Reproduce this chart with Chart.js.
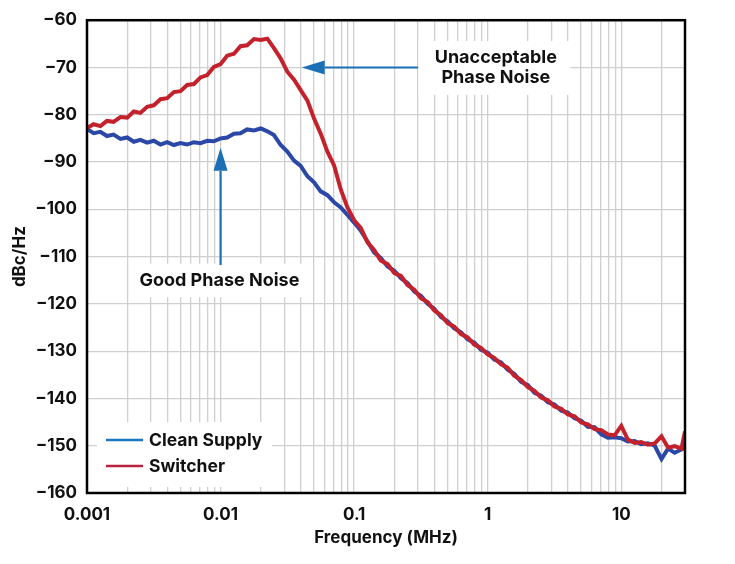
<!DOCTYPE html>
<html>
<head>
<meta charset="utf-8">
<script src="https://cdn.jsdelivr.net/npm/chart.js@4.4.1/dist/chart.umd.min.js"></script>
<style>
html, body { margin: 0; padding: 0; background: #fff; }
</style>
</head>
<body>
<canvas id="phase-noise-chart" width="735" height="564"></canvas>
<script>
// frequency offset in MHz (20 points per decade)
var freqMHz = [
    0.001, 0.00112, 0.00126, 0.00141, 0.00158, 0.00178, 0.002, 0.00224, 0.00251, 0.00282,
    0.00316, 0.00355, 0.00398, 0.00447, 0.00501, 0.00562, 0.00631, 0.00708, 0.00794, 0.00891,
    0.01, 0.0112, 0.0126, 0.0141, 0.0158, 0.0178, 0.02, 0.0224, 0.0251, 0.0282,
    0.0316, 0.0355, 0.0398, 0.0447, 0.0501, 0.0562, 0.0631, 0.0708, 0.0794, 0.0891,
    0.1, 0.112, 0.126, 0.141, 0.158, 0.178, 0.2, 0.224, 0.251, 0.282,
    0.316, 0.355, 0.398, 0.447, 0.501, 0.562, 0.631, 0.708, 0.794, 0.891,
    1, 1.12, 1.26, 1.41, 1.58, 1.78, 2, 2.24, 2.51, 2.82,
    3.16, 3.55, 3.98, 4.47, 5.01, 5.62, 6.31, 7.08, 7.94, 8.91,
    10, 11.2, 12.6, 14.1, 15.8, 17.8, 20, 22.4, 25.1, 28.2, 30
];

// dBc/Hz
var cleanSupply = [
    -83.0, -83.9, -83.6, -84.5, -84.2, -85.1, -84.8, -85.7, -85.3, -85.9,
    -85.5, -86.3, -85.8, -86.4, -86.0, -86.3, -85.8, -86.0, -85.5, -85.6,
    -85.0, -84.8, -84.0, -83.9, -83.1, -83.3, -82.9, -83.5, -84.3, -86.4,
    -87.8, -89.7, -90.8, -93.0, -94.3, -96.2, -97.0, -98.5, -99.6, -101.2,
    -102.8, -104.5, -106.8, -109.1, -110.3, -112.1, -113.0, -114.6, -115.6, -117.4,
    -118.3, -120.0, -121.0, -122.8, -123.7, -125.2, -126.0, -127.5, -128.2, -129.7,
    -130.3, -131.8, -132.4, -133.9, -134.8, -136.5, -137.2, -138.8, -139.4, -140.8,
    -141.3, -142.6, -143.0, -144.2, -144.7, -146.0, -146.1, -147.6, -148.3, -148.2,
    -148.4, -149.1, -149.0, -149.7, -149.5, -150.0, -152.8, -150.6, -151.5, -150.8, -150.5
];

var switcher = [
    -82.8, -82.0, -82.4, -81.3, -81.5, -80.5, -80.6, -79.3, -79.6, -78.3,
    -78.0, -76.7, -76.5, -75.2, -75.0, -73.7, -73.5, -72.1, -71.6, -69.9,
    -69.3, -67.5, -67.1, -65.5, -65.3, -64.0, -64.2, -63.9, -65.9, -68.1,
    -70.9, -72.6, -74.8, -77.0, -80.8, -84.0, -87.8, -90.7, -95.8, -99.6,
    -102.3, -103.9, -107.0, -108.6, -110.8, -111.6, -113.5, -114.1, -116.0, -117.0,
    -118.8, -119.6, -121.4, -122.4, -124.1, -124.8, -126.4, -127.1, -128.6, -129.3,
    -130.7, -131.4, -132.8, -133.5, -135.2, -136.1, -137.6, -138.4, -139.8, -140.4,
    -141.7, -142.2, -143.4, -143.8, -145.1, -145.5, -146.5, -146.7, -147.6, -147.8,
    -145.8, -148.7, -149.4, -149.2, -149.8, -149.5, -148.0, -150.4, -150.1, -150.6, -147.0
];

// grid lines on the log axis, and which of them get a label
var xGridValues = [
    0.001, 0.002, 0.003, 0.004, 0.005, 0.006, 0.007, 0.008, 0.009,
    0.01, 0.02, 0.03, 0.04, 0.05, 0.06, 0.07, 0.08, 0.09,
    0.1, 0.2, 0.3, 0.4, 0.5, 0.6, 0.7, 0.8, 0.9,
    1, 2, 3, 4, 5, 6, 7, 8, 9,
    10, 20, 30
];
var xTickLabels = { 0.001: '0.001', 0.01: '0.01', 0.1: '0.1', 1: '1', 10: '10' };

var FONT = 'Inter, Roboto, sans-serif';
var TEXT = '#111';

var notes = [
    { lines: ['Unacceptable', 'Phase Noise'], at: [1.15, -70.1], box: [0.305, 4.16, -64.4, -75.8],
      arrow: [[0.3, -70], [0.0405, -70]] },
    { lines: ['Good Phase Noise'], at: [0.0098, -115.1], box: [0.00217, 0.0424, -111.5, -118.6],
      arrow: [[0.01, -111.8], [0.01, -87.0]] }
];

function drawArrow(ctx, x0, y0, x1, y1) {
    var ang = Math.atan2(y1 - y0, x1 - x0), len = 23, half = 7;
    var bx = x1 - len * Math.cos(ang), by = y1 - len * Math.sin(ang);
    ctx.beginPath();
    ctx.moveTo(x0, y0);
    ctx.lineTo(bx, by);
    ctx.stroke();
    ctx.beginPath();
    ctx.moveTo(x1, y1);
    ctx.lineTo(bx + half * Math.sin(ang), by - half * Math.cos(ang));
    ctx.lineTo(bx - half * Math.sin(ang), by + half * Math.cos(ang));
    ctx.closePath();
    ctx.fill();
}

var decor = {
    id: 'decor',
    beforeDatasetsDraw: function (chart) {
        var ctx = chart.ctx, a = chart.chartArea, x = chart.scales.x, y = chart.scales.y;
        ctx.save();
        ctx.fillStyle = '#fff';
        notes.forEach(function (n) {
            var x0 = x.getPixelForValue(n.box[0]), x1 = x.getPixelForValue(n.box[1]);
            var y0 = y.getPixelForValue(n.box[2]), y1 = y.getPixelForValue(n.box[3]);
            ctx.fillRect(x0, y0, x1 - x0, y1 - y0);
        });
        ctx.fillRect(a.left + 10, a.bottom - 71, 175, 65);
        ctx.restore();
    },
    afterDatasetsDraw: function (chart) {
        var ctx = chart.ctx, a = chart.chartArea, x = chart.scales.x, y = chart.scales.y;
        ctx.save();

        // arrows + annotation text
        ctx.strokeStyle = '#1b6fb6';
        ctx.fillStyle = '#1b6fb6';
        ctx.lineWidth = 2.2;
        notes.forEach(function (n) {
            drawArrow(ctx, x.getPixelForValue(n.arrow[0][0]), y.getPixelForValue(n.arrow[0][1]),
                x.getPixelForValue(n.arrow[1][0]), y.getPixelForValue(n.arrow[1][1]));
        });
        ctx.fillStyle = TEXT;
        ctx.font = 'bold 18px ' + FONT;
        ctx.textAlign = 'center';
        ctx.textBaseline = 'middle';
        notes.forEach(function (n) {
            var cx = x.getPixelForValue(n.at[0]), cy = y.getPixelForValue(n.at[1]);
            var top = cy - (n.lines.length - 1) * 10;
            n.lines.forEach(function (t, i) { ctx.fillText(t, cx, top + i * 20); });
        });

        // legend
        ctx.textAlign = 'left';
        ctx.font = 'bold 17.5px ' + FONT;
        ctx.lineWidth = 2.5;
        chart.data.datasets.forEach(function (ds, i) {
            var ly = a.bottom - 53 + i * 26;
            ctx.strokeStyle = ds.legendColor;
            ctx.beginPath();
            ctx.moveTo(a.left + 19, ly);
            ctx.lineTo(a.left + 56, ly);
            ctx.stroke();
            ctx.fillStyle = TEXT;
            ctx.fillText(ds.label, a.left + 62, ly + 1);
        });

        // plot frame
        ctx.strokeStyle = '#000';
        ctx.lineWidth = 2.5;
        ctx.strokeRect(a.left, a.top, a.right - a.left, a.bottom - a.top);
        ctx.restore();
    }
};

function points(values) {
    return freqMHz.map(function (f, i) { return { x: f, y: values[i] }; });
}

var ctx = document.getElementById('phase-noise-chart').getContext('2d');
var chart = new Chart(ctx, {
    type: 'line',
    data: {
        datasets: [{
            label: 'Clean Supply',
            data: points(cleanSupply),
            borderColor: '#2b48a6',
            legendColor: '#1c76c0',
            order: 1
        }, {
            label: 'Switcher',
            data: points(switcher),
            borderColor: '#c3222c',
            legendColor: '#b8223f',
            order: 0
        }]
    },
    options: {
        responsive: false,
        animation: false,
        layout: { padding: { top: 17, right: 50, left: 0, bottom: 0 } },
        elements: {
            point: { radius: 0 },
            line: { borderWidth: 4, tension: 0 }
        },
        plugins: {
            legend: { display: false },
            tooltip: { enabled: false }
        },
        scales: {
            x: {
                type: 'logarithmic',
                min: 0.001,
                max: 30,
                afterBuildTicks: function (s) {
                    s.ticks = xGridValues.map(function (v) { return { value: v }; });
                },
                afterFit: function (s) { s.height = 71; },
                border: { display: false },
                grid: { color: '#cfcfcf', lineWidth: 1.3, drawTicks: false },
                ticks: {
                    autoSkip: false,
                    maxRotation: 0,
                    padding: 12,
                    color: TEXT,
                    font: { family: FONT, weight: 'bold', size: 17 },
                    callback: function (v) { return xTickLabels[v] || ''; }
                },
                title: {
                    display: true,
                    text: 'Frequency (MHz)',
                    color: TEXT,
                    font: { family: FONT, weight: 'bold', size: 17 },
                    padding: { top: 0, bottom: 16 }
                }
            },
            y: {
                min: -160,
                max: -60,
                afterFit: function (s) { s.width = 87; },
                border: { display: false },
                grid: { color: '#cfcfcf', lineWidth: 1.3, drawTicks: false },
                ticks: {
                    stepSize: 10,
                    padding: 10,
                    color: TEXT,
                    font: { family: FONT, weight: 'bold', size: 17 },
                    callback: function (v) { return '\u2212' + Math.abs(v); }
                },
                title: {
                    display: true,
                    text: 'dBc/Hz',
                    color: TEXT,
                    font: { family: FONT, weight: 'bold', size: 17 },
                    padding: { top: 10, bottom: 0 }
                }
            }
        }
    },
    plugins: [decor]
});
</script>
</body>
</html>
